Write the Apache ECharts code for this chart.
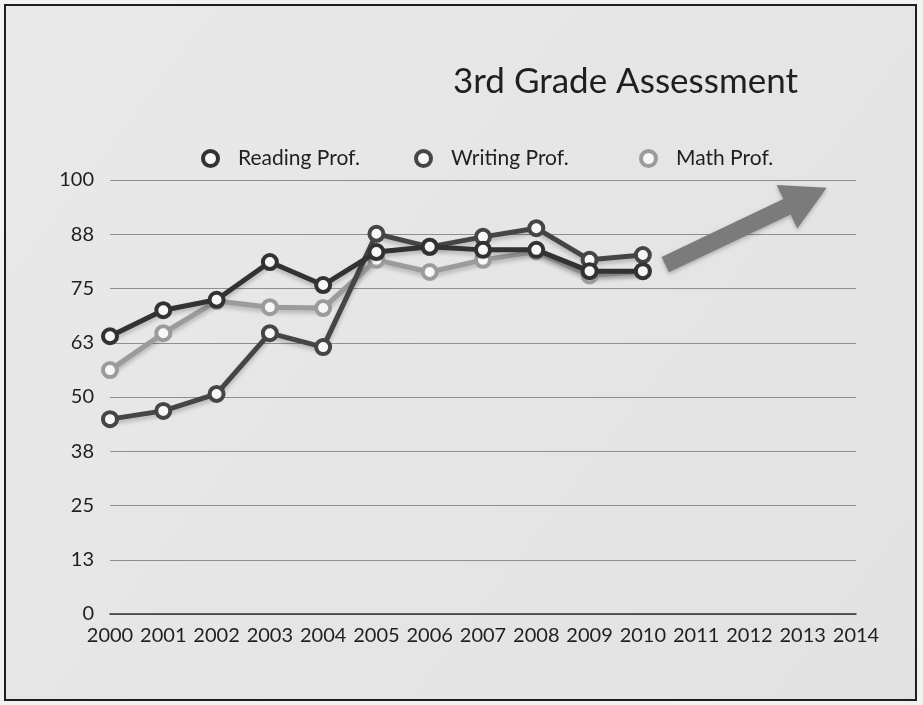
<!DOCTYPE html>
<html>
<head>
<meta charset="utf-8">
<script src="https://cdn.jsdelivr.net/npm/echarts@6/dist/echarts.min.js"></script>
<style>
  html, body { margin: 0; padding: 0; background: #f2f2f2; }
  #chart { width: 923px; height: 705px; }
</style>
</head>
<body>
<div id="chart"></div>
<script>
// Proficiency results by year (percent), 2000–2014; later years not yet reported
const years = ['2000','2001','2002','2003','2004','2005','2006','2007','2008','2009','2010','2011','2012','2013','2014'];
const reading = [64, 70, 72.4, 81.1, 75.8, 83.4, 84.6, 83.9, 83.9, 79.0, 79.0, null, null, null, null];
const writing = [44.9, 46.8, 50.7, 64.7, 61.5, 87.6, 84.6, 86.9, 88.9, 81.6, 82.7, null, null, null, null];
const math    = [56.2, 64.7, 72.1, 70.7, 70.5, 81.6, 78.8, 81.6, 83.5, 78.0, 79.0, null, null, null, null];
const seriesNames = ['Reading Prof.', 'Writing Prof.', 'Math Prof.'];

const FONT = 'Lato, "Open Sans", sans-serif';
const INK = '#1f1f1f';
const colors = ['#323232', '#454545', '#9b9b9b'];
const legendLefts = [196, 409, 634];

function lineSeries(name, data, color, z) {
  return {
    name: name,
    type: 'line',
    data: data,
    z: z,
    symbol: 'circle',
    symbolSize: 14,
    showAllSymbol: true,
    connectNulls: false,
    lineStyle: { color: color, width: 5, shadowColor: 'rgba(0,0,0,0.22)', shadowBlur: 4, shadowOffsetY: 3 },
    itemStyle: { color: '#f7f7f7', borderColor: color, borderWidth: 4 },
    emphasis: { disabled: true }
  };
}

// One legend block per series so each entry sits at its own spot
function legendFor(i) {
  return {
    data: [seriesNames[i]],
    left: legendLefts[i],
    top: 143,
    icon: 'circle',
    itemWidth: 15,
    itemHeight: 15,
    selectedMode: false,
    itemStyle: { borderWidth: 4 },
    textStyle: { fontFamily: FONT, fontSize: 21, color: INK, padding: [0, 0, 0, 15] }
  };
}

const chart = echarts.init(document.getElementById('chart'), null, { renderer: 'canvas' });

const option = {
  animation: false,
  backgroundColor: '#f2f2f2',
  title: {
    text: '3rd Grade Assessment',
    left: 448,
    top: 59,
    textStyle: { fontFamily: FONT, fontSize: 35, fontWeight: 'normal', color: INK }
  },
  legend: [legendFor(0), legendFor(1), legendFor(2)],
  grid: { left: 110, right: 67, top: 180, bottom: 91, containLabel: false },
  xAxis: {
    type: 'category',
    data: years,
    boundaryGap: false,
    axisLine: { lineStyle: { color: '#333333', width: 1.5 } },
    axisTick: { show: false },
    axisLabel: { fontFamily: FONT, fontSize: 20, color: INK, margin: 12, interval: 0 },
    splitLine: { show: false }
  },
  yAxis: {
    type: 'value',
    min: 0,
    max: 100,
    interval: 12.5,
    axisLine: { show: false },
    axisTick: { show: false },
    axisLabel: {
      fontFamily: FONT, fontSize: 20, color: INK, margin: 16,
      formatter: v => String(Math.round(v))
    },
    splitLine: { lineStyle: { color: '#8f8f8f', width: 1 } }
  },
  series: [
    lineSeries(seriesNames[0], reading, colors[0], 4),
    lineSeries(seriesNames[1], writing, colors[1], 3),
    lineSeries(seriesNames[2], math, colors[2], 2)
  ]
};

chart.setOption(option);

// Position on the category axis at a fractional year index
function toPixel(idx, value) {
  const i0 = Math.floor(idx);
  const a = chart.convertToPixel({ gridIndex: 0 }, [i0, value]);
  const b = chart.convertToPixel({ gridIndex: 0 }, [i0 + 1, value]);
  return [a[0] + (b[0] - a[0]) * (idx - i0), a[1]];
}

// Upward trend arrow after the last reported year
function arrowPoints() {
  const tail = toPixel(10.42, 80.5);
  const tip = toPixel(13.45, 98.2);
  const dx = tip[0] - tail[0], dy = tip[1] - tail[1];
  const len = Math.sqrt(dx * dx + dy * dy);
  const ux = dx / len, uy = dy / len;      // along the shaft
  const nx = -uy, ny = ux;                 // across the shaft
  const shaftHalf = 8.5, headHalf = 24, headLen = 44;
  const bx = tip[0] - ux * headLen, by = tip[1] - uy * headLen;
  return [
    [tail[0] + nx * shaftHalf, tail[1] + ny * shaftHalf],
    [bx + nx * shaftHalf, by + ny * shaftHalf],
    [bx + nx * headHalf, by + ny * headHalf],
    [tip[0], tip[1]],
    [bx - nx * headHalf, by - ny * headHalf],
    [bx - nx * shaftHalf, by - ny * shaftHalf],
    [tail[0] - nx * shaftHalf, tail[1] - ny * shaftHalf]
  ];
}

chart.setOption({
  graphic: [
    {
      type: 'rect',
      z: -10,
      silent: true,
      shape: { x: 5, y: 5, width: 911, height: 695 },
      style: {
        fill: {
          type: 'linear', x: 0, y: 0, x2: 1, y2: 1,
          colorStops: [{ offset: 0, color: '#e9e9e9' }, { offset: 1, color: '#e2e2e2' }]
        },
        stroke: '#1e1e1e',
        lineWidth: 2
      }
    },
    {
      type: 'polygon',
      z: 10,
      silent: true,
      shape: { points: arrowPoints() },
      style: { fill: '#7b7b7b', shadowColor: 'rgba(0,0,0,0.25)', shadowBlur: 4, shadowOffsetY: 2 }
    }
  ]
});
</script>
</body>
</html>
